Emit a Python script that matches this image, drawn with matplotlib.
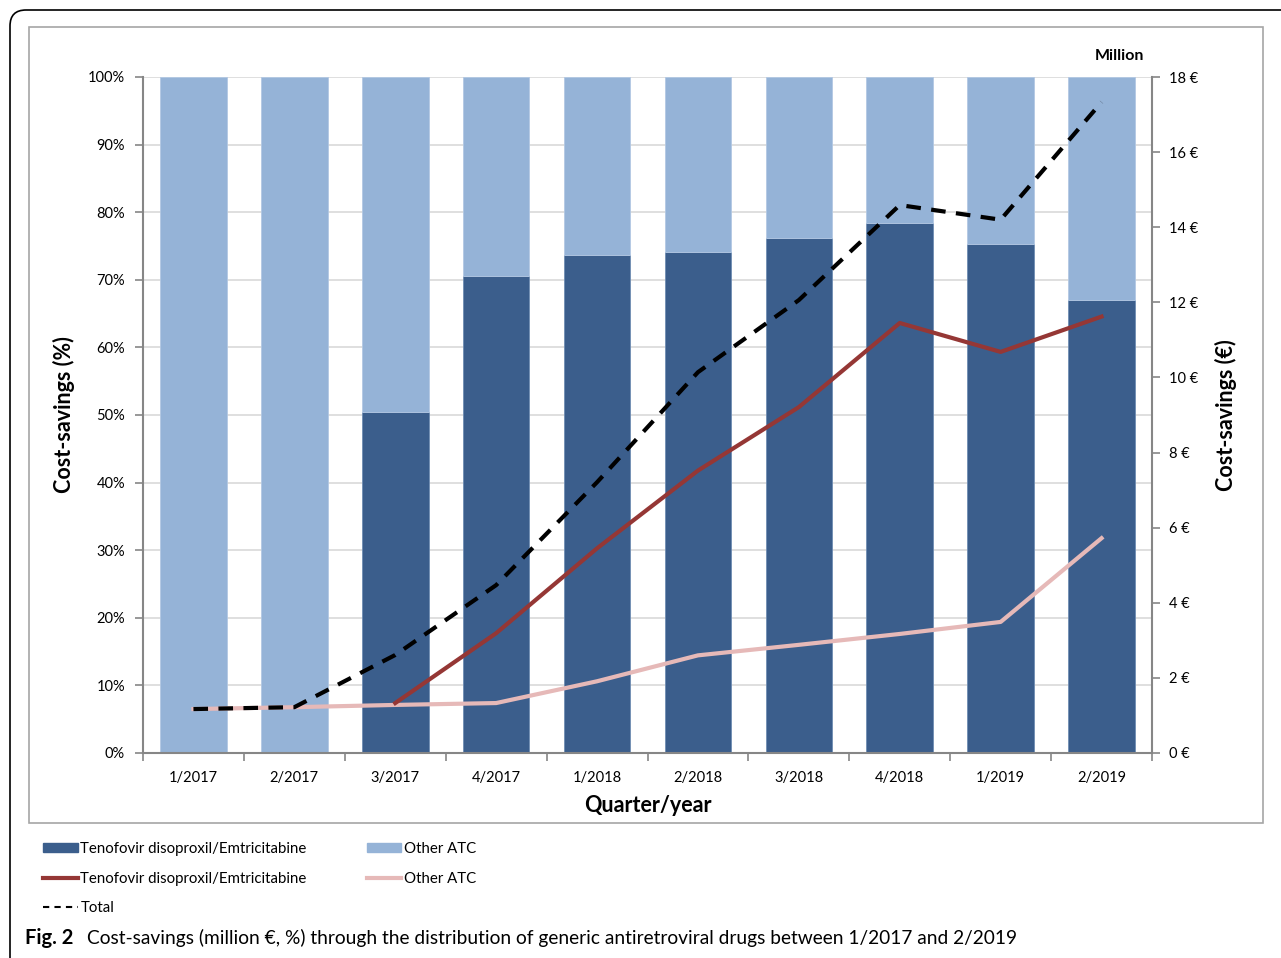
import matplotlib.pyplot as plt
import matplotlib.patches as mpatches
from matplotlib.lines import Line2D
import numpy as np

plt.rcParams['font.family'] = ['Lato', 'DejaVu Sans']

# data
quarters = ['1/2017', '2/2017', '3/2017', '4/2017', '1/2018',
            '2/2018', '3/2018', '4/2018', '1/2019', '2/2019']
share_tdf = [0, 0, 50.4, 70.6, 73.7, 74.1, 76.2, 78.4, 75.3, 67.0]  # % of savings
share_other = [100 - v for v in share_tdf]

eur_tdf = [np.nan, np.nan, 1.33, 3.19, 5.45, 7.52, 9.21, 11.45, 10.68, 11.62]
eur_other = [1.17, 1.22, 1.28, 1.33, 1.91, 2.60, 2.88, 3.17, 3.49, 5.72]
eur_total = [1.17, 1.22, 2.61, 4.47, 7.21, 10.14, 12.06, 14.59, 14.20, 17.33]

dark = '#3b5e8c'
light = '#95b3d7'
red = '#953735'
pink = '#e6b9b8'
spine = '#868686'

W, H = 1281, 958
fig = plt.figure(figsize=(W / 100, H / 100), dpi=100)

# outer rounded frame (runs off the right and bottom edges) and inner chart frame
frame = mpatches.FancyBboxPatch((0.10, -0.3), 13.5, 9.78,
                                boxstyle='round,pad=0,rounding_size=0.16',
                                transform=fig.dpi_scale_trans,
                                fill=False, ec='black', lw=1.2)
fig.patches.append(frame)
inner = mpatches.Rectangle((29 / W, 1 - 823 / H), (1263 - 29) / W, (823 - 27) / H,
                           transform=fig.transFigure, fill=False, ec='#a6a6a6', lw=1.2)
fig.patches.append(inner)

ax = fig.add_axes([143 / W, 1 - 753 / H, (1152 - 143) / W, (753 - 77) / H])
x = np.arange(len(quarters))

ax.bar(x, share_tdf, width=0.66, color=dark, edgecolor='#6f8db3', lw=0.6, zorder=2)
ax.bar(x, share_other, bottom=share_tdf, width=0.66, color=light,
       edgecolor='#b3c8e3', lw=0.6, zorder=2)

ax.set_xlim(-0.5, len(quarters) - 0.5)
ax.set_ylim(0, 100)
ax.set_yticks(np.arange(0, 101, 10))
ax.set_yticklabels([f'{v}%' for v in range(0, 101, 10)])
ax.grid(axis='y', color='#d9d9d9', lw=1.2, zorder=0)
ax.set_axisbelow(True)

ax.set_xticks(np.arange(-0.5, len(quarters), 1))
ax.set_xticklabels([])
ax.set_xticks(x, minor=True)
ax.set_xticklabels(quarters, minor=True)
ax.tick_params(axis='x', which='minor', length=0, pad=13, labelsize=10.5)
ax.tick_params(axis='x', which='major', length=6, color=spine, width=1.2)
ax.tick_params(axis='y', length=6, color=spine, width=1.2, labelsize=10.5, pad=7)

for s in ['top', 'right']:
    ax.spines[s].set_visible(False)
for s in ['left', 'bottom']:
    ax.spines[s].set_color(spine)
    ax.spines[s].set_linewidth(1.5)

ax.set_xlabel('Quarter/year', fontsize=15.5, fontweight='bold', labelpad=7)
ax.set_ylabel('Cost-savings (%)', fontsize=15.5, fontweight='bold', labelpad=9)

ax2 = ax.twinx()
ax2.set_ylim(0, 18)
ax2.set_yticks(np.arange(0, 19, 2))
ax2.set_yticklabels([f'{v} €' for v in range(0, 19, 2)])
ax2.tick_params(axis='y', length=6, color=spine, width=1.2, labelsize=10.5, pad=6)
for s in ['top', 'left', 'bottom']:
    ax2.spines[s].set_visible(False)
ax2.spines['right'].set_color(spine)
ax2.spines['right'].set_linewidth(1.5)

ax2.plot(x, eur_other, color=pink, lw=3, zorder=3)
ax2.plot(x, eur_tdf, color=red, lw=3, zorder=4)
ax2.plot(x, eur_total, color='black', lw=3, ls=(0, (3.5, 2.5)), zorder=5)

ax2.set_ylabel('Cost-savings (€)', fontsize=15.5, fontweight='bold', labelpad=12)
fig.text(1119 / W, 1 - 56 / H, 'Million', fontsize=11.5, fontweight='bold',
         ha='center', va='center')

# legend below the chart
handles = [mpatches.Patch(color=dark),
           Line2D([], [], color=red, lw=3),
           Line2D([], [], color='black', lw=1.5, ls=(0, (3, 2.5))),
           mpatches.Patch(color=light),
           Line2D([], [], color=pink, lw=3)]
labels = ['Tenofovir disoproxil/Emtricitabine', 'Tenofovir disoproxil/Emtricitabine',
          'Total', 'Other ATC', 'Other ATC']
fig.legend(handles, labels, loc='upper left', bbox_to_anchor=(37 / W, 1 - 836 / H),
           ncol=2, frameon=False, fontsize=10.8, handlelength=2.3,
           handleheight=0.6, handletextpad=0.2, labelspacing=1.05,
           columnspacing=4.0, borderaxespad=0)

fig.text(25 / W, 1 - 938 / H, 'Fig. 2', fontsize=14.5, fontweight='bold', va='center')
fig.text(87 / W, 1 - 938 / H,
         'Cost-savings (million €, %) through the distribution of generic '
         'antiretroviral drugs between 1/2017 and 2/2019',
         fontsize=13.8, va='center')

fig.savefig('out.png', dpi=100)
